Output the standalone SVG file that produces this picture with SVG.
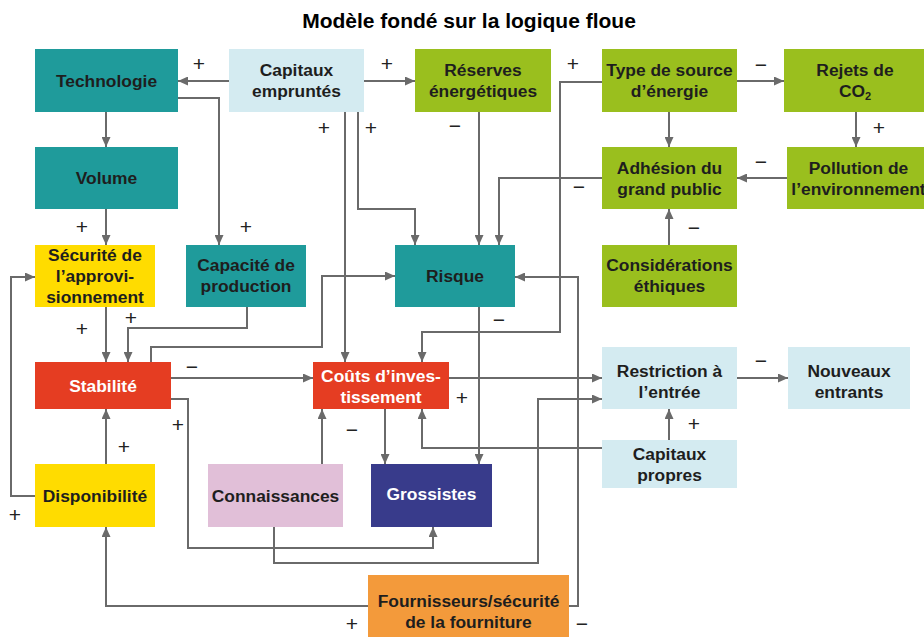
<svg xmlns="http://www.w3.org/2000/svg" width="924" height="637" viewBox="0 0 924 637">
<style>
text{font-family:"Liberation Sans",Arial,sans-serif;}
.t{font-size:17.4px;font-weight:bold;fill:#1e1e1e;text-anchor:middle;}
.w{fill:#ffffff;}
.title{font-size:21px;font-weight:bold;fill:#000;text-anchor:middle;}
.s{font-size:21px;fill:#222222;text-anchor:middle;}
.c{fill:none;stroke:#6a6a6a;stroke-width:2;marker-end:url(#a);}
.teal{fill:#1f9b9b;}
.lb{fill:#d4ebf1;}
.gr{fill:#9abf1e;}
.ye{fill:#ffdc00;}
.rd{fill:#e53d22;}
.pk{fill:#e1bfd8;}
.nv{fill:#383b8b;}
.or{fill:#f39a3b;}
</style>
<defs>
<marker id="a" markerUnits="userSpaceOnUse" markerWidth="11" markerHeight="9" refX="10" refY="4.5" orient="auto">
<path d="M0,0 L10,4.5 L0,9 z" fill="#6a6a6a"/>
</marker>
</defs>
<rect width="924" height="637" fill="#ffffff"/>
<text class="title" x="469" y="28">Modèle fondé sur la logique floue</text>

<g id="connectors">
<polyline class="c" points="229,81 178,81"/>
<polyline class="c" points="178,98 219,98 219,245"/>
<polyline class="c" points="106,112 106,147"/>
<polyline class="c" points="106,209 106,245"/>
<polyline class="c" points="364,81 415,81"/>
<polyline class="c" points="345,112 345,362"/>
<polyline class="c" points="358,112 358,209 415,209 415,245"/>
<polyline class="c" points="479,112 479,245"/>
<polyline class="c" points="602,82 560,82 560,332 422,332 422,362"/>
<polyline class="c" points="602,178 499,178 499,245"/>
<polyline class="c" points="737,81 784,81"/>
<polyline class="c" points="669,112 669,147"/>
<polyline class="c" points="856,112 856,147"/>
<polyline class="c" points="787,178 737,178"/>
<polyline class="c" points="669,245 669,209"/>
<polyline class="c" points="106,307 106,362"/>
<polyline class="c" points="247,307 247,328 128,328 128,362"/>
<polyline class="c" points="151,362 151,347 322,347 322,276 395,276"/>
<polyline class="c" points="171,378 313,378"/>
<polyline class="c" points="171,399 188,399 188,548 433,548 433,527"/>
<polyline class="c" points="106,464 106,409"/>
<polyline class="c" points="35,496 11,496 11,277 35,277"/>
<polyline class="c" points="368,606 106,606 106,527"/>
<polyline class="c" points="569,606 578,606 578,277 515,277"/>
<polyline class="c" points="322,464 322,409"/>
<polyline class="c" points="274,527 274,563 538,563 538,399 602,399"/>
<polyline class="c" points="385,409 385,464"/>
<polyline class="c" points="479,307 479,464"/>
<polyline class="c" points="449,378 602,378"/>
<polyline class="c" points="602,448 422,448 422,409"/>
<polyline class="c" points="669,440 669,409"/>
<polyline class="c" points="737,378 788,378"/>
</g>

<g id="signs">
<text class="s" x="199" y="71">+</text>
<text class="s" x="246" y="234">+</text>
<text class="s" x="82" y="234">+</text>
<text class="s" x="387" y="71">+</text>
<text class="s" x="324" y="135">+</text>
<text class="s" x="371" y="135">+</text>
<text class="s" x="455" y="133">−</text>
<text class="s" x="573" y="71">+</text>
<text class="s" x="579" y="194">−</text>
<text class="s" x="761" y="72">−</text>
<text class="s" x="879" y="135">+</text>
<text class="s" x="761" y="169">−</text>
<text class="s" x="694" y="235">−</text>
<text class="s" x="82" y="336">+</text>
<text class="s" x="131" y="325">+</text>
<text class="s" x="192" y="374">−</text>
<text class="s" x="178" y="432">+</text>
<text class="s" x="124" y="454">+</text>
<text class="s" x="15" y="522">+</text>
<text class="s" x="352" y="631">+</text>
<text class="s" x="582" y="631">−</text>
<text class="s" x="352" y="437">−</text>
<text class="s" x="499" y="327">−</text>
<text class="s" x="462" y="405">+</text>
<text class="s" x="694" y="431">+</text>
<text class="s" x="761" y="368">−</text>
</g>

<g id="technologie"><rect class="teal" x="35" y="49" width="143" height="63"/><text class="t" x="106.5" y="87">Technologie</text></g>
<g id="capitaux-empruntes"><rect class="lb" x="229" y="49" width="135" height="63"/><text class="t" x="296.5" y="76">Capitaux</text><text class="t" x="296.5" y="97">empruntés</text></g>
<g id="reserves"><rect class="gr" x="415" y="49" width="136" height="63"/><text class="t" x="483" y="76">Réserves</text><text class="t" x="483" y="97">énergétiques</text></g>
<g id="type-source"><rect class="gr" x="602" y="49" width="135" height="63"/><text class="t" x="669.5" y="76">Type de source</text><text class="t" x="669.5" y="97">d’énergie</text></g>
<g id="rejets"><rect class="gr" x="784" y="49" width="142" height="63"/><text class="t" x="855" y="76">Rejets de</text><text class="t" x="855" y="97">CO<tspan font-size="11" dy="3">2</tspan></text></g>
<g id="volume"><rect class="teal" x="35" y="147" width="143" height="62"/><text class="t" x="106.5" y="184">Volume</text></g>
<g id="adhesion"><rect class="gr" x="602" y="147" width="135" height="62"/><text class="t" x="669.5" y="174">Adhésion du</text><text class="t" x="669.5" y="195">grand public</text></g>
<g id="pollution"><rect class="gr" x="787" y="147" width="143" height="62"/><text class="t" x="858.5" y="174">Pollution de</text><text class="t" x="858.5" y="195">l’environnement</text></g>
<g id="securite"><rect class="ye" x="35" y="245" width="120" height="62"/><text class="t" x="95" y="261">Sécurité de</text><text class="t" x="95" y="282">l’approvi-</text><text class="t" x="95" y="303">sionnement</text></g>
<g id="capacite"><rect class="teal" x="186" y="245" width="120" height="62"/><text class="t" x="246" y="271">Capacité de</text><text class="t" x="246" y="292">production</text></g>
<g id="risque"><rect class="teal" x="395" y="245" width="120" height="62"/><text class="t" x="455" y="282">Risque</text></g>
<g id="considerations"><rect class="gr" x="602" y="245" width="135" height="62"/><text class="t" x="669.5" y="271">Considérations</text><text class="t" x="669.5" y="292">éthiques</text></g>
<g id="stabilite"><rect class="rd" x="35" y="362" width="136" height="47"/><text class="t w" x="103" y="392">Stabilité</text></g>
<g id="couts"><rect class="rd" x="313" y="362" width="136" height="47"/><text class="t w" x="381" y="382">Coûts d’inves-</text><text class="t w" x="381" y="403">tissement</text></g>
<g id="restriction"><rect class="lb" x="602" y="347" width="135" height="62"/><text class="t" x="669.5" y="377">Restriction à</text><text class="t" x="669.5" y="398">l’entrée</text></g>
<g id="nouveaux"><rect class="lb" x="788" y="347" width="122" height="62"/><text class="t" x="849" y="377">Nouveaux</text><text class="t" x="849" y="398">entrants</text></g>
<g id="capitaux-propres"><rect class="lb" x="602" y="440" width="135" height="48"/><text class="t" x="669.5" y="460">Capitaux</text><text class="t" x="669.5" y="481">propres</text></g>
<g id="disponibilite"><rect class="ye" x="35" y="464" width="120" height="63"/><text class="t" x="95" y="502">Disponibilité</text></g>
<g id="connaissances"><rect class="pk" x="208" y="464" width="135" height="63"/><text class="t" x="275.5" y="502">Connaissances</text></g>
<g id="grossistes"><rect class="nv" x="371" y="464" width="121" height="63"/><text class="t w" x="431.5" y="500">Grossistes</text></g>
<g id="fournisseurs"><rect class="or" x="368" y="575" width="201" height="70"/><text class="t" x="468.5" y="607">Fournisseurs/sécurité</text><text class="t" x="468.5" y="628">de la fourniture</text></g>
</svg>
